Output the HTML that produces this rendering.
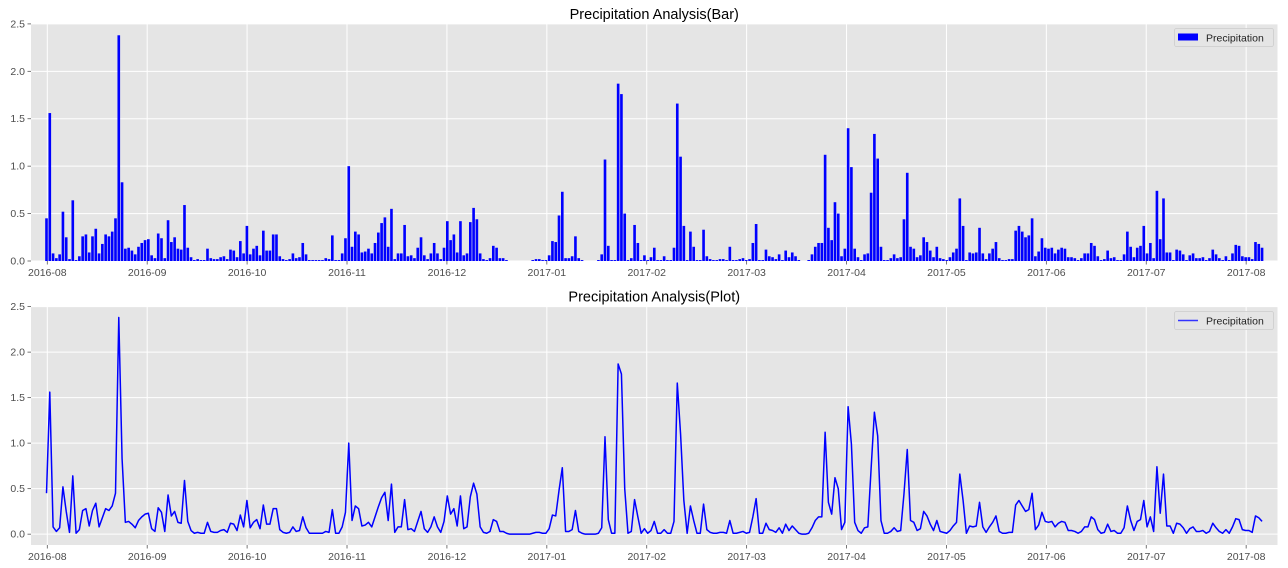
<!DOCTYPE html>
<html><head><meta charset="utf-8">
<style>
html,body{margin:0;padding:0;background:#fff;}
svg{display:block;font-family:"Liberation Sans","DejaVu Sans",sans-serif;}
</style></head>
<body>
<svg id="chart" width="1288" height="568" viewBox="0 0 1288 568"></svg>
<script>
const precipitation = [0.45,1.56,0.08,0.03,0.07,0.52,0.25,0.02,0.64,0.01,0.05,0.26,0.28,0.09,0.26,0.34,0.08,0.18,0.28,0.26,0.31,0.45,2.38,0.83,0.13,0.14,0.11,0.07,0.15,0.19,0.22,0.23,0.06,0.03,0.29,0.24,0.03,0.43,0.2,0.25,0.13,0.12,0.59,0.14,0.04,0.01,0.02,0.01,0.01,0.13,0.03,0.02,0.02,0.04,0.05,0.02,0.12,0.11,0.04,0.21,0.08,0.37,0.07,0.13,0.16,0.06,0.32,0.11,0.11,0.28,0.28,0.05,0.02,0.01,0.02,0.08,0.03,0.04,0.19,0.07,0.01,0.01,0.01,0.01,0.01,0.03,0.02,0.27,0.01,0.01,0.08,0.24,1.0,0.15,0.31,0.28,0.09,0.1,0.13,0.08,0.19,0.3,0.4,0.46,0.15,0.55,0.02,0.08,0.08,0.38,0.05,0.06,0.03,0.14,0.25,0.06,0.02,0.08,0.19,0.08,0.02,0.14,0.42,0.22,0.28,0.09,0.42,0.06,0.08,0.41,0.56,0.44,0.08,0.02,0.01,0.03,0.16,0.14,0.03,0.03,0.01,0.0,0.0,0.0,0.0,0.0,0.0,0.0,0.01,0.02,0.02,0.01,0.01,0.06,0.21,0.2,0.48,0.73,0.03,0.03,0.05,0.26,0.03,0.01,0.0,0.0,0.0,0.0,0.01,0.07,1.07,0.16,0.01,0.01,1.87,1.76,0.5,0.01,0.03,0.38,0.19,0.01,0.06,0.01,0.04,0.14,0.01,0.01,0.05,0.01,0.01,0.14,1.66,1.1,0.37,0.01,0.31,0.15,0.01,0.01,0.33,0.05,0.02,0.01,0.01,0.02,0.02,0.01,0.15,0.01,0.01,0.02,0.03,0.01,0.02,0.19,0.39,0.01,0.01,0.12,0.05,0.04,0.02,0.07,0.01,0.11,0.04,0.09,0.05,0.01,0.0,0.0,0.01,0.07,0.15,0.19,0.19,1.12,0.35,0.22,0.62,0.5,0.05,0.13,1.4,0.99,0.13,0.04,0.01,0.07,0.08,0.72,1.34,1.08,0.15,0.01,0.01,0.03,0.07,0.03,0.04,0.44,0.93,0.15,0.13,0.04,0.06,0.25,0.2,0.11,0.04,0.15,0.03,0.02,0.01,0.04,0.09,0.13,0.66,0.37,0.01,0.09,0.08,0.09,0.35,0.08,0.02,0.08,0.13,0.2,0.03,0.01,0.01,0.02,0.02,0.32,0.37,0.31,0.25,0.27,0.45,0.05,0.1,0.24,0.14,0.13,0.14,0.08,0.12,0.14,0.13,0.04,0.04,0.03,0.01,0.03,0.08,0.08,0.19,0.16,0.05,0.01,0.02,0.11,0.03,0.04,0.01,0.01,0.07,0.31,0.15,0.04,0.14,0.16,0.37,0.08,0.19,0.03,0.74,0.23,0.66,0.09,0.09,0.01,0.12,0.11,0.07,0.01,0.06,0.08,0.03,0.03,0.04,0.01,0.03,0.12,0.07,0.03,0.01,0.05,0.01,0.08,0.17,0.16,0.05,0.04,0.04,0.02,0.2,0.18,0.14];
const xTickLabels = ["2016-08","2016-09","2016-10","2016-11","2016-12","2017-01","2017-02","2017-03","2017-04","2017-05","2017-06","2017-07","2017-08"];
const xTickIndex = [0.24,30.65,61.06,91.47,121.88,152.29,182.7,213.11,243.52,273.93,304.34,334.75,365.16];
const yTicks = [0.0,0.5,1.0,1.5,2.0,2.5];

const NS = "http://www.w3.org/2000/svg";
const svg = document.getElementById('chart');
function mk(tag, attrs, parent){ const e=document.createElementNS(NS,tag); for(const k in attrs) e.setAttribute(k,attrs[k]); (parent||svg).appendChild(e); return e; }

const X0=31, X1=1277.5;
const iMin=-4.72, iMax=374.7;
function xScale(i){ return X0 + (i-iMin)/(iMax-iMin)*(X1-X0); }

function drawAxes(top,bottom,yMin,yMax,title,kind){
  const yScale = v => bottom - (v-yMin)/(yMax-yMin)*(bottom-top);
  const g = mk('g',{});
  
  
  const bg = mk('rect',{x:X0,y:top,width:X1-X0,height:bottom-top,fill:'#e5e5e5'},g);
  
  
  yTicks.forEach(t=>{
    const y=yScale(t);
    const gl=mk('line',{x1:X0,x2:X1,y1:y,y2:y,stroke:'#fff','stroke-width':1},g);
    
    
    mk('line',{x1:X0-3.5,x2:X0,y1:y,y2:y,stroke:'#555','stroke-width':0.8},g);
    const tx=mk('text',{x:X0-6,y:y+3.5,'text-anchor':'end','font-size':10.5,fill:'#4d4d4d'},g);
    tx.textContent=t.toFixed(1);
    
    
  });
  xTickIndex.forEach((ti,k)=>{
    const x=xScale(ti);
    const gl=mk('line',{x1:x,x2:x,y1:top,y2:bottom,stroke:'#fff','stroke-width':1},g);
    
    
    mk('line',{x1:x,x2:x,y1:bottom,y2:bottom+3.5,stroke:'#555','stroke-width':0.8},g);
    const tx=mk('text',{x:x,y:bottom+15,'text-anchor':'middle','font-size':10.5,fill:'#4d4d4d'},g);
    tx.textContent=xTickLabels[k];
    
    
  });
  const tt=mk('text',{x:(X0+X1)/2,y:top-5,'text-anchor':'middle','font-size':14.5,fill:'#000'},g);
  tt.textContent=title;
  
  
  return {g,yScale};
}

const A = drawAxes(24,261,0,2.499,'Precipitation Analysis(Bar)','bar');
const bw = (xScale(1)-xScale(0))*0.8;
precipitation.forEach((v,i)=>{
  const y=A.yScale(v);
  const r=mk('rect',{x:xScale(i)-bw/2,y:y,width:bw,height:A.yScale(0)-y,fill:'#0000ff'},A.g);
  
  
});

const B = drawAxes(306.7,545,-0.119,2.499,'Precipitation Analysis(Plot)','line');
const pts = precipitation.map((v,i)=>xScale(i).toFixed(2)+','+B.yScale(v).toFixed(2)).join(' ');
const pl=mk('polyline',{points:pts,fill:'none',stroke:'#0000ff','stroke-width':1.5,'stroke-linejoin':'round'},B.g);



function legend(top,kind){
  const g=mk('g',{});
  
  
  mk('rect',{x:1174.5,y:top,width:99,height:18,rx:2,fill:'#e5e5e5',stroke:'#ccc','stroke-width':0.8,'fill-opacity':0.8},g);
  if(kind==='bar') mk('rect',{x:1178,y:top+5,width:20,height:7,fill:'#0000ff'},g);
  else mk('line',{x1:1178,x2:1198,y1:top+9,y2:top+9,stroke:'#3333ff','stroke-width':1.5},g);
  const t=mk('text',{x:1206,y:top+13,'font-size':10.5,fill:'#222'},g);
  t.textContent='Precipitation';
  
  
}
legend(28.5,'bar');
legend(311.5,'line');
</script>
</body></html>
